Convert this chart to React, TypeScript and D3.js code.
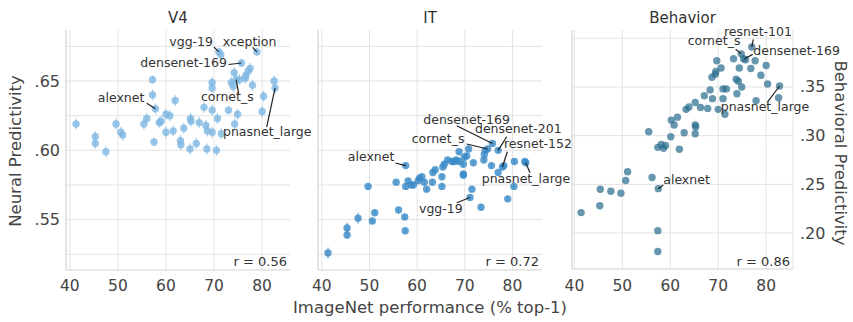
import React from "react";
import * as d3 from "d3";

// ---------- data ----------
const xTicks = [40, 50, 60, 70, 80];
const neuralTicks = [0.55, 0.6, 0.65];
const neuralGrid = [0.525, 0.55, 0.575, 0.6, 0.625, 0.65, 0.675];
const behaviorTicks = [0.2, 0.25, 0.3, 0.35];
const behaviorGrid = [0.2, 0.25, 0.3, 0.35, 0.4];

const panelTitles = ["V4", "IT", "Behavior"];
const rValues = ["0.56", "0.72", "0.86"];

// [imagenet top-1, predictivity, error]
const v4Points: [number, number, number][] = [
  [41.3, 0.619, 0.004], [45.3, 0.61, 0.004], [45.3, 0.605, 0.004], [47.5, 0.599, 0.004],
  [49.6, 0.619, 0.004], [50.6, 0.613, 0.004], [51.0, 0.611, 0.004], [55.4, 0.619, 0.004],
  [56.0, 0.623, 0.004], [57.2, 0.651, 0.003], [57.2, 0.64, 0.004], [57.5, 0.606, 0.003],
  [57.8, 0.63, 0.004], [58.6, 0.62, 0.004], [59.0, 0.621, 0.004], [60.0, 0.626, 0.004],
  [60.0, 0.613, 0.004], [60.8, 0.625, 0.004], [61.5, 0.614, 0.004], [61.9, 0.636, 0.004],
  [63.7, 0.616, 0.004], [63.0, 0.607, 0.004], [63.1, 0.604, 0.004], [65.1, 0.623, 0.004],
  [65.2, 0.621, 0.004], [65.0, 0.601, 0.004], [66.3, 0.605, 0.004], [66.9, 0.62, 0.004],
  [67.9, 0.631, 0.004], [68.3, 0.618, 0.004], [68.6, 0.614, 0.004], [68.5, 0.601, 0.004],
  [69.6, 0.649, 0.004], [69.6, 0.645, 0.004], [69.6, 0.629, 0.004], [69.6, 0.613, 0.004],
  [70.7, 0.623, 0.004], [70.5, 0.6, 0.004], [71.0, 0.671, 0.003], [71.4, 0.669, 0.003],
  [71.5, 0.612, 0.004], [73.0, 0.629, 0.003], [73.6, 0.649, 0.004], [74.0, 0.646, 0.004],
  [74.2, 0.656, 0.004], [74.3, 0.619, 0.004], [74.6, 0.651, 0.004], [74.9, 0.626, 0.004],
  [75.3, 0.651, 0.004], [75.7, 0.663, 0.003], [76.5, 0.652, 0.004], [76.6, 0.654, 0.004],
  [77.1, 0.657, 0.004], [77.5, 0.659, 0.004], [78.0, 0.647, 0.004], [78.9, 0.671, 0.003],
  [80.0, 0.628, 0.004], [80.3, 0.639, 0.004], [82.5, 0.65, 0.004], [82.7, 0.645, 0.004],
];

const itPoints: [number, number, number][] = [
  [41.3, 0.526, 0.004], [45.3, 0.544, 0.004], [45.3, 0.539, 0.003], [47.6, 0.551, 0.004],
  [49.7, 0.574, 0.002], [50.6, 0.549, 0.002], [51.1, 0.555, 0.002], [55.6, 0.577, 0.002],
  [56.1, 0.557, 0.002], [57.4, 0.552, 0.002], [57.5, 0.542, 0.002], [57.6, 0.589, 0.002],
  [57.6, 0.574, 0.002], [58.1, 0.578, 0.002], [58.8, 0.575, 0.002], [59.2, 0.575, 0.002],
  [60.2, 0.578, 0.002], [60.5, 0.58, 0.002], [61.0, 0.581, 0.002], [61.5, 0.577, 0.002],
  [62.0, 0.572, 0.002], [63.2, 0.577, 0.002], [63.3, 0.584, 0.002], [63.8, 0.586, 0.002],
  [65.2, 0.574, 0.002], [65.2, 0.581, 0.002], [65.4, 0.588, 0.002], [65.7, 0.59, 0.002],
  [66.4, 0.593, 0.002], [67.3, 0.592, 0.002], [67.8, 0.592, 0.002], [68.2, 0.593, 0.002],
  [68.8, 0.599, 0.002], [68.8, 0.592, 0.002], [69.7, 0.583, 0.002], [69.7, 0.582, 0.002],
  [69.7, 0.59, 0.002], [69.9, 0.595, 0.002], [70.4, 0.596, 0.002], [70.8, 0.601, 0.002],
  [71.1, 0.566, 0.002], [71.5, 0.572, 0.002], [71.8, 0.591, 0.002], [73.4, 0.559, 0.002],
  [74.0, 0.593, 0.002], [74.1, 0.597, 0.002], [74.3, 0.6, 0.002], [74.8, 0.601, 0.002],
  [75.8, 0.605, 0.002], [75.6, 0.589, 0.002], [77.0, 0.6, 0.002], [77.0, 0.584, 0.002],
  [77.9, 0.588, 0.002], [78.2, 0.589, 0.002], [79.0, 0.565, 0.002], [80.3, 0.574, 0.002],
  [80.4, 0.592, 0.002], [82.8, 0.591, 0.002], [82.6, 0.592, 0.002],
];

const behaviorPoints: [number, number][] = [
  [41.4, 0.221], [45.3, 0.228], [45.4, 0.245], [47.6, 0.243], [49.7, 0.241], [50.7, 0.254],
  [51.1, 0.263], [55.5, 0.304], [56.2, 0.257], [57.4, 0.2025], [57.4, 0.181], [57.5, 0.2456],
  [57.4, 0.288], [58.1, 0.291], [58.6, 0.287], [59.0, 0.29], [60.1, 0.299], [60.2, 0.316],
  [60.8, 0.311], [61.5, 0.319], [61.9, 0.286], [62.9, 0.303], [63.3, 0.327], [63.9, 0.3295],
  [65.2, 0.334], [65.2, 0.311], [65.3, 0.309], [65.2, 0.302], [66.3, 0.329], [67.1, 0.341],
  [67.8, 0.328], [68.3, 0.347], [68.8, 0.338], [68.7, 0.36], [69.4, 0.363], [69.5, 0.366],
  [69.7, 0.377], [70.0, 0.327], [70.6, 0.3695], [71.0, 0.348], [71.0, 0.338], [71.4, 0.322],
  [71.7, 0.348], [73.2, 0.379], [73.75, 0.358], [74.2, 0.356], [73.9, 0.343], [74.4, 0.3695],
  [74.8, 0.384], [74.9, 0.35], [75.3, 0.379], [75.7, 0.378], [77.0, 0.391], [77.7, 0.377],
  [76.8, 0.369], [77.9, 0.336], [78.9, 0.362], [80.0, 0.372], [80.3, 0.353], [82.6, 0.339],
  [82.8, 0.351],
];

// label, point (x,y), text position (x,y), leader start (x,y), anchor — all data coords
type Ann = { label: string; p: [number, number]; t: [number, number]; l: [number, number]; anchor: "start" | "end" };

const v4Annotations: Ann[] = [
  { label: "vgg-19", p: [71.0, 0.671], t: [69.78, 0.6753], l: [69.99, 0.6745], anchor: "end" },
  { label: "xception", p: [78.9, 0.671], t: [71.8, 0.6753], l: [78.04, 0.6743], anchor: "start" },
  { label: "densenet-169", p: [75.7, 0.663], t: [72.69, 0.6601], l: [73.0, 0.6619], anchor: "end" },
  { label: "alexnet", p: [57.8, 0.63], t: [55.49, 0.6349], l: [55.99, 0.6339], anchor: "end" },
  { label: "cornet_s", p: [74.6, 0.651], t: [67.28, 0.6356], l: [75.13, 0.6409], anchor: "start" },
  { label: "pnasnet_large", p: [82.7, 0.645], t: [71.86, 0.6103], l: [80.95, 0.6168], anchor: "start" },
];

const itAnnotations: Ann[] = [
  { label: "densenet-169", p: [75.8, 0.605], t: [61.29, 0.619], l: [68.3, 0.6177], anchor: "start" },
  { label: "densenet-201", p: [77.0, 0.6], t: [72.14, 0.6123], l: [78.79, 0.6098], anchor: "start" },
  { label: "cornet_s", p: [74.8, 0.601], t: [58.86, 0.6055], l: [70.4, 0.6046], anchor: "start" },
  { label: "resnet-152", p: [77.9, 0.588], t: [78.23, 0.6015], l: [78.92, 0.599], anchor: "start" },
  { label: "alexnet", p: [57.6, 0.589], t: [55.21, 0.5925], l: [55.46, 0.5909], anchor: "end" },
  { label: "pnasnet_large", p: [82.8, 0.591], t: [73.55, 0.5767], l: [83.68, 0.5839], anchor: "start" },
  { label: "vgg-19", p: [71.1, 0.566], t: [60.39, 0.5546], l: [68.3, 0.5622], anchor: "start" },
];

const behaviorAnnotations: Ann[] = [
  { label: "resnet-101", p: [77.0, 0.391], t: [71.21, 0.4023], l: [77.32, 0.3989], anchor: "start" },
  { label: "cornet_s", p: [74.8, 0.384], t: [63.63, 0.3931], l: [73.65, 0.3887], anchor: "start" },
  { label: "densenet-169", p: [75.5, 0.379], t: [77.32, 0.3828], l: [77.19, 0.3835], anchor: "start" },
  { label: "pnasnet_large", p: [82.8, 0.351], t: [70.52, 0.3253], l: [80.24, 0.3342], anchor: "start" },
  { label: "alexnet", p: [57.5, 0.2456], t: [58.54, 0.2501], l: [58.54, 0.2493], anchor: "start" },
];

// ---------- layout ----------
const W = 853;
const H = 322;
const FONT = "'DejaVu Sans', Verdana, sans-serif";
const TOP = 30;
const BOTTOM = 270;

const fmt = (v: number) => d3.format(".2f")(v).replace(/^0/, "");

type PanelProps = {
  title: string;
  r: string;
  x: d3.ScaleLinear<number, number>;
  y: d3.ScaleLinear<number, number>;
  grid: number[];
  points: number[][];
  color: string;
  opacity: number;
  annotations: Ann[];
  rightSpine?: boolean;
};

function Panel({ title, r, x, y, grid, points, color, opacity, annotations, rightSpine }: PanelProps) {
  const [x0, x1] = x.range();
  const [yb, yt] = y.range();
  return (
    <g>
      {xTicks.map((t) => (
        <line key={"gx" + t} x1={x(t)} x2={x(t)} y1={yt} y2={yb} stroke="#e3e3e3" strokeWidth={1} />
      ))}
      {grid.map((t) => (
        <line key={"gy" + t} x1={x0} x2={x1} y1={y(t)} y2={y(t)} stroke="#e3e3e3" strokeWidth={1} />
      ))}
      <line x1={x0} x2={x0} y1={yt} y2={yb} stroke="#d2d2d2" strokeWidth={1.2} />
      <line x1={x0} x2={x1} y1={yb} y2={yb} stroke="#d2d2d2" strokeWidth={1.2} />
      {rightSpine && <line x1={x1} x2={x1} y1={yt} y2={yb} stroke="#e3e3e3" strokeWidth={1} />}
      {xTicks.map((t) => (
        <text key={"tx" + t} x={x(t)} y={291} textAnchor="middle" fontSize={15.5} fill="#444">
          {t}
        </text>
      ))}
      <text x={(x0 + x1) / 2} y={23} textAnchor="middle" fontSize={15} fill="#333">
        {title}
      </text>
      {points.map((d, i) =>
        d[2] ? (
          <line
            key={"e" + i}
            x1={x(d[0])}
            x2={x(d[0])}
            y1={y(d[1] - d[2])}
            y2={y(d[1] + d[2])}
            stroke={color}
            strokeOpacity={opacity * 0.8}
            strokeWidth={1.3}
          />
        ) : null
      )}
      {points.map((d, i) => (
        <circle key={"c" + i} cx={x(d[0])} cy={y(d[1])} r={3.7} fill={color} fillOpacity={opacity} />
      ))}
      {annotations.map((a) => (
        <g key={a.label}>
          <line x1={x(a.l[0])} y1={y(a.l[1])} x2={x(a.p[0])} y2={y(a.p[1])} stroke="#222" strokeWidth={1.2} />
          <text x={x(a.t[0])} y={y(a.t[1])} textAnchor={a.anchor} fontSize={12.5} fill="#333">
            {a.label}
          </text>
        </g>
      ))}
      <text x={x1 - 3} y={266} textAnchor="end" fontSize={13} fill="#333">
        r = {r}
      </text>
    </g>
  );
}

export default function App() {
  const yNeural = d3.scaleLinear().domain([0.5137, 0.6868]).range([BOTTOM, TOP]);
  const yBehavior = d3.scaleLinear().domain([0.1631, 0.4085]).range([269, TOP]);
  const xV4 = d3.scaleLinear().domain([39.2, 85.8]).range([66, 290]);
  const xIT = d3.scaleLinear().domain([39.2, 86.2]).range([318, 542]);
  const xBeh = d3.scaleLinear().domain([39.5, 85.6]).range([572, 793]);
  const yBeh = yBehavior;

  return (
    <svg
      width={W}
      height={H}
      style={{ position: "absolute", left: 0, top: 0, background: "#fff" }}
      fontFamily={FONT}
    >
      <rect width={W} height={H} fill="#fff" />
      <Panel
        title={panelTitles[0]}
        r={rValues[0]}
        x={xV4}
        y={yNeural}
        grid={neuralGrid}
        points={v4Points}
        color="#7fb8e3"
        opacity={0.8}
        annotations={v4Annotations}
      />
      <Panel
        title={panelTitles[1]}
        r={rValues[1]}
        x={xIT}
        y={yNeural}
        grid={neuralGrid}
        points={itPoints}
        color="#3a8bc8"
        opacity={0.8}
        annotations={itAnnotations}
      />
      <Panel
        title={panelTitles[2]}
        r={rValues[2]}
        x={xBeh}
        y={yBeh}
        grid={behaviorGrid}
        points={behaviorPoints}
        color="#2b6f8f"
        opacity={0.72}
        annotations={behaviorAnnotations}
        rightSpine
      />
      {neuralTicks.map((t) => (
        <text key={"ny" + t} x={60} y={yNeural(t)} textAnchor="end" dominantBaseline="central" fontSize={16} fill="#444">
          {fmt(t)}
        </text>
      ))}
      {behaviorTicks.map((t) => (
        <text key={"by" + t} x={800} y={yBeh(t)} textAnchor="start" dominantBaseline="central" fontSize={16} fill="#444">
          {fmt(t)}
        </text>
      ))}
      <text transform={`translate(21,151) rotate(-90)`} textAnchor="middle" fontSize={16.5} fill="#444">
        Neural Predictivity
      </text>
      <text transform={`translate(835,153) rotate(90)`} textAnchor="middle" fontSize={16.5} fill="#444">
        Behavioral Predictivity
      </text>
      <text x={430} y={313} textAnchor="middle" fontSize={16.5} fill="#444">
        ImageNet performance (% top-1)
      </text>
    </svg>
  );
}
